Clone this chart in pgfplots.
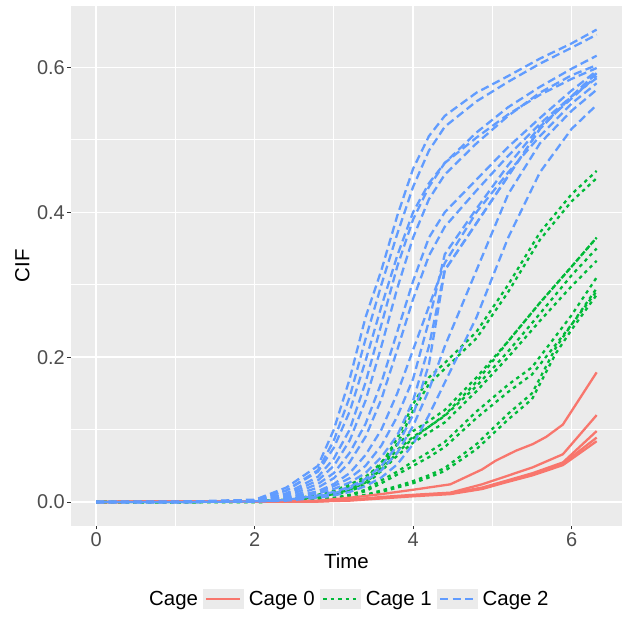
\documentclass[border=0pt]{standalone}
\usepackage{fontspec}
\setmainfont{Liberation Sans}
\usepackage{pgfplots}
\pgfplotsset{compat=1.18}
\definecolor{cage0}{HTML}{F8766D}
\definecolor{cage1}{HTML}{00BA38}
\definecolor{cage2}{HTML}{619CFF}
\definecolor{panel}{HTML}{EBEBEB}
\definecolor{grey20}{HTML}{333333}
\definecolor{grey30}{HTML}{4D4D4D}
\tikzset{
  c0/.style={cage0, line width=2.3bp, solid},
  c1/.style={cage1, line width=2.3bp, dash pattern=on 3.5bp off 3.9bp},
  c2/.style={cage2, line width=2.3bp, dash pattern=on 8.2bp off 4.3bp},
}
\pgfplotsset{
  keybox/.style={legend image code/.code={
    \fill[panel, draw=none] (0bp,-10bp) rectangle (41bp,10bp);
    \draw (3.5bp,0bp) -- (37.5bp,0bp);}},
}
\begin{document}
\begin{tikzpicture}
\begin{axis}[
  scale only axis, width=550.7bp, height=519.7bp,
  xmin=-0.316, xmax=6.632, ymin=-0.0326, ymax=0.6846,
  axis background/.style={fill=panel},
  axis x line*=bottom, axis y line*=left, axis line style={draw=none},
  xtick={0,2,4,6}, xticklabels={0,2,4,6},
  ytick={0,0.2,0.4,0.6}, yticklabels={0.0,0.2,0.4,0.6},
  minor xtick={1,3,5}, minor ytick={0.1,0.3,0.5},
  grid=both,
  major grid style={white, line width=1.4bp},
  minor grid style={white, line width=0.7bp},
  tick align=outside, major tick length=3.6bp, minor tick length=0pt,
  tick style={grey20, line width=1bp},
  ticklabel style={font=\fontsize{20}{24}\selectfont, text=grey30, inner sep=0pt},
  xticklabel style={yshift=-3.4bp},
  yticklabel style={xshift=-2.4bp},
  xlabel={Time}, ylabel={CIF},
  label style={font=\fontsize{20.5}{24}\selectfont},
  xlabel style={at={(axis description cs:0.5,-0.082)}, anchor=base, inner sep=0pt},
  ylabel style={at={(axis description cs:-0.0757,0.5)}, anchor=base, inner sep=0pt},
  legend columns=-1,
  legend style={at={(axis description cs:0.5,-0.1405)}, anchor=center,
    draw=none, fill=none, inner sep=0pt,
    font=\fontsize{20.5}{24}\selectfont,
    /tikz/every odd column/.append style={column sep=5bp},
    /tikz/every even column/.append style={column sep=5bp},
    nodes={inner sep=0pt}},
]
\addlegendimage{empty legend}\addlegendentry{Cage}
\addlegendimage{c0, keybox}\addlegendentry{Cage 0}
\addlegendimage{c1, keybox}\addlegendentry{Cage 1}
\addlegendimage{c2, keybox}\addlegendentry{Cage 2}

% Cage 1
\addplot[c1, forget plot] coordinates {(0,0) (1,0) (2,0.001) (2.4,0.003) (2.8,0.010) (3.0,0.016) (3.2,0.024) (3.4,0.035) (3.6,0.052) (3.8,0.088) (4.0,0.135) (4.2,0.172) (4.4,0.192) (4.8,0.235) (5.2,0.300) (5.6,0.372) (6.0,0.425) (6.316,0.457)};
\addplot[c1, forget plot] coordinates {(0,0) (1,0) (2,0.001) (2.4,0.003) (2.8,0.009) (3.0,0.014) (3.2,0.021) (3.4,0.031) (3.6,0.047) (3.8,0.080) (4.0,0.126) (4.2,0.163) (4.4,0.184) (4.8,0.226) (5.2,0.290) (5.6,0.362) (6.0,0.415) (6.316,0.447)};
\addplot[c1, forget plot] coordinates {(0,0) (1,0) (2,0.001) (2.4,0.002) (2.8,0.008) (3.0,0.013) (3.2,0.020) (3.4,0.032) (3.6,0.055) (3.8,0.080) (4.0,0.098) (4.2,0.112) (4.4,0.127) (4.8,0.172) (5.2,0.222) (5.6,0.275) (6.0,0.325) (6.316,0.365)};
\addplot[c1, forget plot, dash phase=3.7bp] coordinates {(0,0) (1,0) (2,0.001) (2.4,0.002) (2.8,0.007) (3.0,0.011) (3.2,0.017) (3.4,0.027) (3.6,0.045) (3.8,0.068) (4.0,0.088) (4.2,0.104) (4.4,0.120) (4.8,0.166) (5.2,0.222) (5.6,0.275) (6.0,0.325) (6.316,0.365)};
\addplot[c1, forget plot] coordinates {(0,0) (1,0) (2,0.001) (2.4,0.002) (2.8,0.007) (3.0,0.011) (3.2,0.017) (3.4,0.028) (3.6,0.050) (3.8,0.072) (4.0,0.090) (4.2,0.104) (4.4,0.119) (4.8,0.160) (5.2,0.208) (5.6,0.260) (6.0,0.313) (6.316,0.350)};
\addplot[c1, forget plot] coordinates {(0,0) (1,0) (2,0.001) (2.4,0.002) (2.8,0.006) (3.0,0.010) (3.2,0.015) (3.4,0.024) (3.6,0.043) (3.8,0.064) (4.0,0.082) (4.2,0.096) (4.4,0.110) (4.8,0.153) (5.2,0.200) (5.6,0.250) (6.0,0.298) (6.316,0.333)};
\addplot[c1, forget plot] coordinates {(0,0) (1,0) (2,0) (2.4,0.001) (2.8,0.004) (3.0,0.006) (3.2,0.010) (3.4,0.017) (3.6,0.030) (3.8,0.042) (4.0,0.056) (4.2,0.069) (4.4,0.083) (4.8,0.125) (5.2,0.162) (5.5,0.186) (6.0,0.258) (6.316,0.310)};
\addplot[c1, forget plot] coordinates {(0,0) (1,0) (2,0) (2.4,0.001) (2.8,0.003) (3.0,0.005) (3.2,0.009) (3.4,0.015) (3.6,0.026) (3.8,0.038) (4.0,0.050) (4.2,0.062) (4.4,0.076) (4.8,0.116) (5.2,0.152) (5.5,0.176) (6.0,0.245) (6.316,0.295)};
\addplot[c1, forget plot] coordinates {(0,0) (1,0) (2,0) (2.4,0.001) (2.8,0.002) (3.0,0.004) (3.2,0.006) (3.4,0.010) (3.6,0.016) (3.8,0.022) (4.0,0.029) (4.2,0.037) (4.4,0.047) (4.8,0.080) (5.2,0.122) (5.5,0.150) (5.8,0.213) (6.0,0.245) (6.316,0.291)};
\addplot[c1, forget plot] coordinates {(0,0) (1,0) (2,0) (2.4,0.001) (2.8,0.002) (3.0,0.003) (3.2,0.005) (3.4,0.009) (3.6,0.014) (3.8,0.020) (4.0,0.026) (4.2,0.034) (4.4,0.043) (4.8,0.073) (5.2,0.114) (5.5,0.142) (5.8,0.205) (6.0,0.238) (6.316,0.286)};

% Cage 0
\addplot[c0, forget plot] coordinates {(0,0) (1,0.001) (2,0.001) (2.4,0.001) (2.8,0.002) (3.0,0.004) (3.2,0.006) (3.6,0.011) (4.0,0.017) (4.47,0.0245) (4.87,0.045) (5.04,0.057) (5.3,0.071) (5.51,0.080) (5.68,0.090) (5.89,0.107) (6.316,0.179)};
\addplot[c0, forget plot] coordinates {(0,0) (1,0.001) (2,0.001) (2.8,0.001) (3.2,0.003) (3.6,0.007) (4.0,0.010) (4.47,0.013) (4.87,0.0245) (5.13,0.034) (5.51,0.048) (5.89,0.066) (6.316,0.120)};
\addplot[c0, forget plot] coordinates {(0,0) (1,0.001) (2,0.001) (2.8,0.001) (3.2,0.003) (3.6,0.006) (4.0,0.009) (4.47,0.012) (4.87,0.020) (5.13,0.028) (5.51,0.040) (5.89,0.0547) (6.316,0.098)};
\addplot[c0, forget plot] coordinates {(0,0) (1,0.001) (2,0.001) (2.8,0.001) (3.2,0.003) (3.6,0.006) (4.0,0.009) (4.47,0.012) (4.87,0.019) (5.13,0.027) (5.51,0.038) (5.89,0.053) (6.316,0.089)};
\addplot[c0, forget plot] coordinates {(0,0) (1,0.001) (2,0.001) (2.8,0.001) (3.2,0.002) (3.6,0.005) (4.0,0.008) (4.47,0.011) (4.87,0.018) (5.13,0.026) (5.51,0.037) (5.89,0.051) (6.316,0.084)};

% Cage 2
\addplot[c2, forget plot] coordinates {(0,0) (1,0) (2,0.003) (2.4,0.020) (2.8,0.050) (3.0,0.100) (3.2,0.170) (3.4,0.255) (3.6,0.320) (3.8,0.395) (4.0,0.460) (4.2,0.505) (4.4,0.533) (4.8,0.565) (5.2,0.588) (5.6,0.612) (6.0,0.633) (6.316,0.652)};
\addplot[c2, forget plot] coordinates {(0,0) (1,0) (2,0.003) (2.4,0.016) (2.8,0.044) (3.0,0.085) (3.2,0.145) (3.4,0.225) (3.6,0.300) (3.8,0.370) (4.0,0.435) (4.2,0.485) (4.4,0.518) (4.8,0.553) (5.2,0.580) (5.6,0.605) (6.0,0.627) (6.316,0.645)};
\addplot[c2, forget plot] coordinates {(0,0) (1,0) (2,0.003) (2.4,0.016) (2.8,0.042) (3.0,0.075) (3.2,0.125) (3.4,0.195) (3.6,0.270) (3.8,0.340) (4.0,0.400) (4.2,0.440) (4.4,0.468) (4.8,0.503) (5.2,0.535) (5.6,0.562) (6.0,0.584) (6.316,0.599)};
\addplot[c2, forget plot] coordinates {(0,0) (1,0) (2,0.002) (2.4,0.012) (2.8,0.035) (3.0,0.060) (3.2,0.100) (3.4,0.165) (3.6,0.245) (3.8,0.325) (4.0,0.390) (4.2,0.435) (4.4,0.468) (4.8,0.510) (5.2,0.545) (5.6,0.573) (6.0,0.598) (6.316,0.616)};
\addplot[c2, forget plot] coordinates {(0,0) (1,0) (2,0.002) (2.4,0.010) (2.8,0.030) (3.0,0.050) (3.2,0.085) (3.4,0.140) (3.6,0.215) (3.8,0.295) (4.0,0.365) (4.2,0.418) (4.4,0.452) (4.8,0.495) (5.2,0.533) (5.6,0.565) (6.0,0.589) (6.316,0.603)};
\addplot[c2, forget plot] coordinates {(0,0) (1,0) (2,0.002) (2.4,0.008) (2.8,0.025) (3.0,0.040) (3.2,0.068) (3.4,0.108) (3.6,0.165) (3.8,0.235) (4.0,0.305) (4.2,0.365) (4.4,0.400) (4.8,0.445) (5.2,0.490) (5.6,0.530) (6.0,0.568) (6.316,0.595)};
\addplot[c2, forget plot] coordinates {(0,0) (1,0) (2,0.002) (2.4,0.006) (2.8,0.020) (3.0,0.033) (3.2,0.055) (3.4,0.090) (3.6,0.142) (3.8,0.210) (4.0,0.280) (4.2,0.340) (4.4,0.380) (4.8,0.430) (5.2,0.478) (5.6,0.522) (6.0,0.560) (6.316,0.585)};
\addplot[c2, forget plot] coordinates {(0,0) (1,0) (2,0.001) (2.4,0.005) (2.8,0.015) (3.0,0.025) (3.2,0.040) (3.4,0.065) (3.6,0.100) (3.8,0.150) (4.0,0.210) (4.2,0.270) (4.4,0.330) (4.8,0.400) (5.2,0.455) (5.6,0.505) (6.0,0.550) (6.316,0.578)};
\addplot[c2, forget plot] coordinates {(0,0) (1,0) (2,0.001) (2.4,0.004) (2.8,0.012) (3.0,0.018) (3.2,0.027) (3.4,0.040) (3.6,0.062) (3.8,0.092) (4.0,0.140) (4.2,0.215) (4.4,0.320) (4.8,0.385) (5.2,0.450) (5.6,0.515) (6.0,0.560) (6.316,0.592)};
\addplot[c2, forget plot, dash phase=6.2bp] coordinates {(0,0) (1,0) (2,0.001) (2.4,0.003) (2.8,0.009) (3.0,0.014) (3.2,0.021) (3.4,0.032) (3.6,0.050) (3.8,0.078) (4.0,0.120) (4.2,0.190) (4.4,0.320) (4.8,0.385) (5.2,0.450) (5.6,0.515) (6.0,0.560) (6.316,0.592)};
\addplot[c2, forget plot] coordinates {(0,0) (1,0) (2,0.001) (2.4,0.005) (2.8,0.014) (3.0,0.022) (3.2,0.033) (3.4,0.050) (3.6,0.078) (3.8,0.118) (4.0,0.170) (4.2,0.250) (4.4,0.342) (4.8,0.405) (5.2,0.465) (5.6,0.518) (6.0,0.557) (6.316,0.588)};
\addplot[c2, forget plot] coordinates {(0,0) (1,0) (2,0.001) (2.4,0.003) (2.8,0.008) (3.0,0.012) (3.2,0.019) (3.4,0.029) (3.6,0.044) (3.8,0.068) (4.0,0.105) (4.2,0.155) (4.4,0.215) (4.8,0.320) (5.2,0.425) (5.6,0.495) (6.0,0.540) (6.316,0.569)};
\addplot[c2, forget plot] coordinates {(0,0) (1,0) (2,0.001) (2.4,0.002) (2.8,0.006) (3.0,0.009) (3.2,0.014) (3.4,0.022) (3.6,0.034) (3.8,0.052) (4.0,0.080) (4.2,0.120) (4.4,0.165) (4.8,0.255) (5.2,0.365) (5.6,0.455) (6.0,0.515) (6.316,0.548)};
\end{axis}
\path ([shift={(-71bp,-92.3bp)}]current axis.south west) rectangle ([shift={(3.3bp,6bp)}]current axis.north east);
\end{tikzpicture}
\end{document}
